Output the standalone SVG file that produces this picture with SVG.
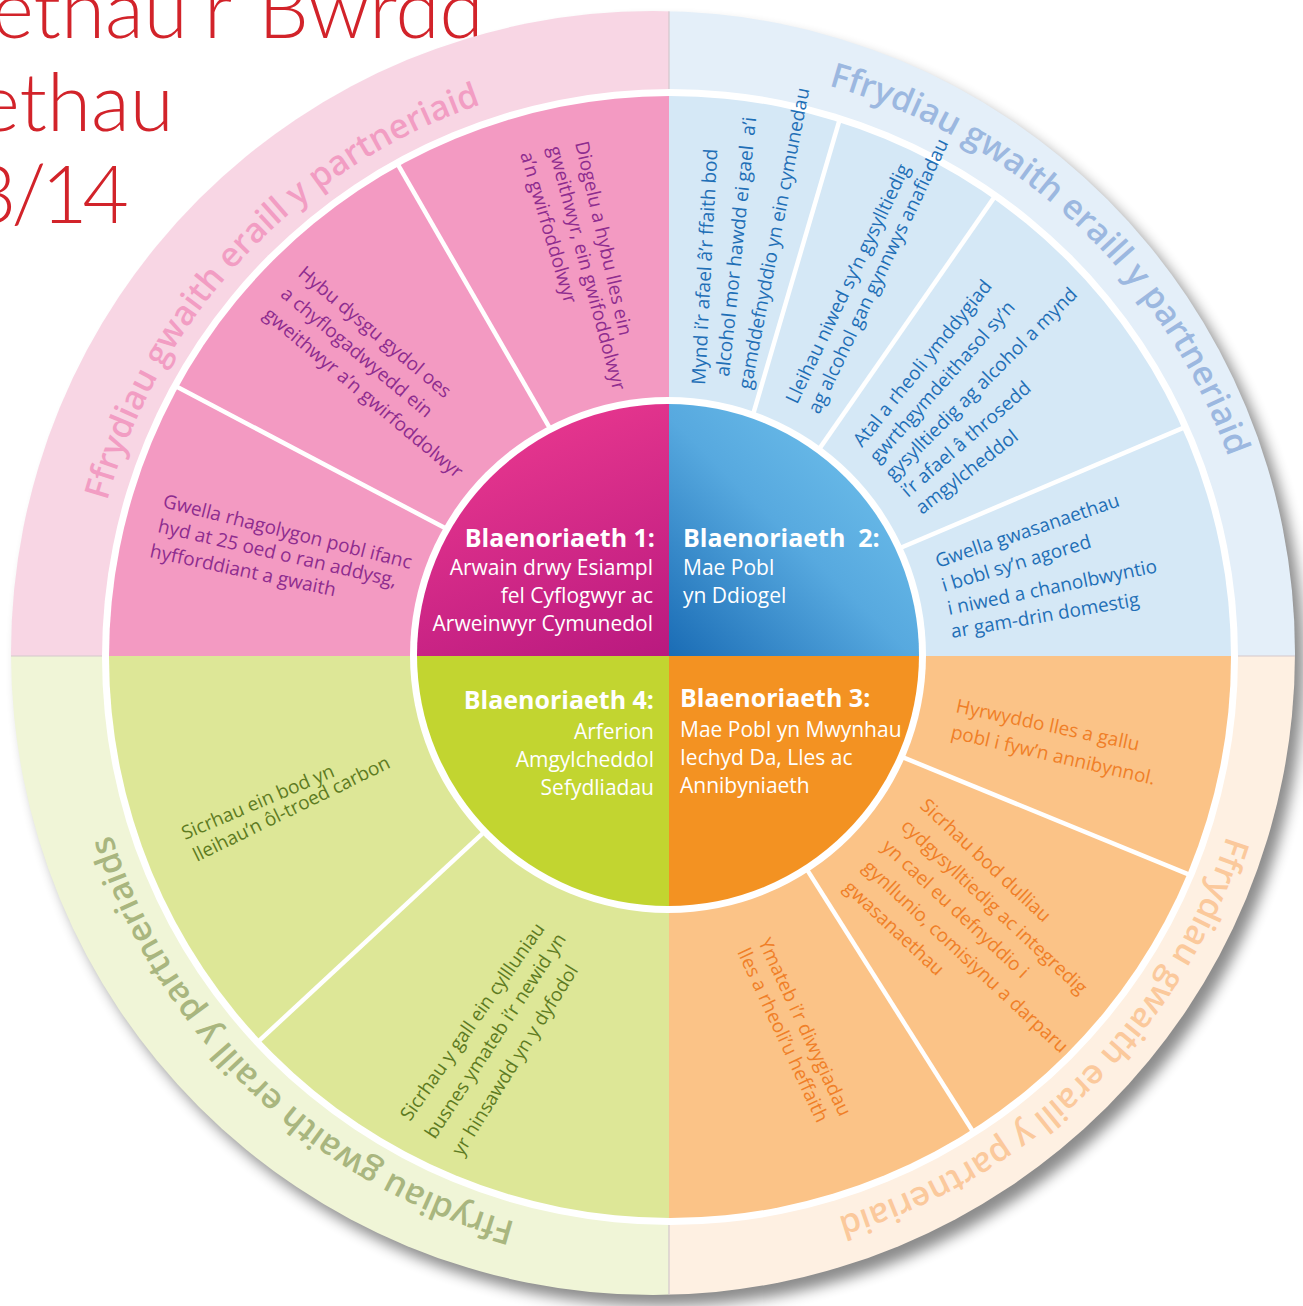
<svg xmlns="http://www.w3.org/2000/svg" width="1303" height="1306" viewBox="0 0 1303 1306">
<defs>
<style>
.title{font-family:Lato,"Open Sans",sans-serif;font-weight:300;font-size:80px;fill:#d2232a}
.ring{font-family:"Open Sans","Noto Sans",sans-serif;font-weight:600;font-size:34px}
.head{font-family:"Open Sans","Noto Sans",sans-serif;font-weight:700;font-size:25px;fill:#fff}
.sub{font-family:"Open Sans","Noto Sans",sans-serif;font-size:21px;fill:#fff}
.seg{font-family:"Open Sans","Noto Sans",sans-serif;font-size:19px}
.pk{fill:#8e2c8f}
.bl{fill:#1f6fb6}
.or{fill:#f07f27}
.gr{fill:#5d7b22}
.div{stroke:#fff;stroke-width:4.5;fill:none}
.sep{stroke:#d3c7cb;stroke-width:1.2;fill:none}
</style>
<clipPath id="cOuter"><circle cx="653" cy="653" r="642"/></clipPath>
<clipPath id="cMid"><circle cx="670" cy="657" r="561"/></clipPath>
<clipPath id="cIn"><circle cx="668" cy="655" r="251"/></clipPath>
<filter id="blur" x="-10%" y="-10%" width="120%" height="120%"><feGaussianBlur stdDeviation="7"/></filter>
<linearGradient id="gMag" x1="0.6" y1="0" x2="1" y2="1">
<stop offset="0" stop-color="#e9388f"/><stop offset="1" stop-color="#b9197f"/>
</linearGradient>
<linearGradient id="gBlue" x1="1" y1="0" x2="0" y2="1">
<stop offset="0" stop-color="#7bcbf1"/><stop offset="0.55" stop-color="#57a9df"/><stop offset="1" stop-color="#1a6cb5"/>
</linearGradient>
<path id="pPink" d="M107.2,500.9 A584,584 0 0 1 720.9,75.2"/>
<path id="pBlue" d="M828.5,85.6 A593,593 0 0 1 1260.7,708.7"/>
<path id="pOrange" d="M1227,835.8 A585,585 0 0 1 598.7,1237.6"/>
<path id="pGreen" d="M515.4,1222.2 A586,586 0 0 1 86.2,605.9"/>
</defs>

<rect width="1303" height="1306" fill="#fff"/>

<g id="title">
<text class="title" x="-8" y="38" word-spacing="6">ethau’r Bwrdd</text>
<text class="title" x="-22" y="131">ethau</text>
<text class="title" x="-30" y="223" letter-spacing="-5">3/14</text>
</g>

<g id="outer-ring">
<circle cx="662" cy="664" r="642" fill="#000" opacity="0.45" filter="url(#blur)"/>
<g clip-path="url(#cOuter)">
<rect x="0" y="0" width="669" height="656" fill="#f8d6e4"/>
<rect x="669" y="0" width="634" height="656" fill="#e4eff9"/>
<rect x="669" y="656" width="634" height="650" fill="#fef0e2"/>
<rect x="0" y="656" width="669" height="650" fill="#f0f5d7"/>
<line class="sep" x1="669" y1="0" x2="669" y2="1306"/>
<line class="sep" x1="0" y1="656" x2="1303" y2="656"/>
</g>
<text class="ring" fill="#f29dc3" font-size="35"><textPath href="#pPink">Ffrydiau gwaith eraill y partneriaid</textPath></text>
<text class="ring" fill="#9cb8e0"><textPath href="#pBlue">Ffrydiau gwaith eraill y partneriaid</textPath></text>
<text class="ring" fill="#fbc99c"><textPath href="#pOrange">Ffrydiau gwaith eraill y partneriaid</textPath></text>
<text class="ring" fill="#a9b67f"><textPath href="#pGreen">Ffrydiau gwaith eraill y partneriaids</textPath></text>
</g>

<g id="middle-ring">
<circle cx="670" cy="657" r="568" fill="#fff"/>
<g clip-path="url(#cMid)">
<rect x="0" y="0" width="669" height="656" fill="#f39ac2"/>
<rect x="669" y="0" width="634" height="656" fill="#d5e8f6"/>
<rect x="669" y="656" width="634" height="650" fill="#fbc387"/>
<rect x="0" y="656" width="669" height="650" fill="#dde797"/>
</g>
</g>

<g id="connectors">
<line class="div" x1="460.7" y1="536.3" x2="175" y2="385.8"/>
<line class="div" x1="558" y1="442.3" x2="396.5" y2="162.2"/>
<line class="div" x1="746.4" y1="437.2" x2="840.3" y2="117.3"/>
<line class="div" x1="810.6" y1="461.4" x2="995.6" y2="195.4"/>
<line class="div" x1="886.6" y1="553.8" x2="1186.7" y2="426.4"/>
<line class="div" x1="888.5" y1="751.4" x2="1192.8" y2="876.1"/>
<line class="div" x1="795.3" y1="851.1" x2="974.1" y2="1133.4"/>
<line class="div" x1="497.7" y1="819.4" x2="257.1" y2="1042.7"/>
</g>

<g id="inner-circle">
<circle cx="668" cy="655" r="258" fill="#fff"/>
<g clip-path="url(#cIn)">
<rect x="400" y="390" width="269" height="266" fill="url(#gMag)"/>
<rect x="669" y="390" width="270" height="266" fill="url(#gBlue)"/>
<rect x="669" y="656" width="270" height="260" fill="#f39222"/>
<rect x="400" y="656" width="269" height="260" fill="#c2d530"/>
</g>
</g>

<g id="priority-1">
<text class="head" x="655" y="547" text-anchor="end">Blaenoriaeth 1:</text>
<text class="sub" text-anchor="end"><tspan x="653" y="575">Arwain drwy Esiampl</tspan><tspan x="653" y="603">fel Cyflogwyr ac</tspan><tspan x="653" y="631">Arweinwyr Cymunedol</tspan></text>
</g>
<g id="priority-2">
<text class="head" x="683" y="547" xml:space="preserve">Blaenoriaeth  2:</text>
<text class="sub"><tspan x="683" y="575">Mae Pobl</tspan><tspan x="683" y="603">yn Ddiogel</tspan></text>
</g>
<g id="priority-3">
<text class="head" x="680" y="707">Blaenoriaeth 3:</text>
<text class="sub"><tspan x="680" y="737">Mae Pobl yn Mwynhau</tspan><tspan x="680" y="765">Iechyd Da, Lles ac</tspan><tspan x="680" y="793">Annibyniaeth</tspan></text>
</g>
<g id="priority-4">
<text class="head" x="654" y="709" text-anchor="end">Blaenoriaeth 4:</text>
<text class="sub" text-anchor="end"><tspan x="654" y="739">Arferion</tspan><tspan x="654" y="767">Amgylcheddol</tspan><tspan x="654" y="795">Sefydliadau</tspan></text>
</g>

<g id="seg-pink-a" class="seg pk">
<text transform="translate(575,143) rotate(77)">Diogelu a hybu lles ein</text>
<text transform="translate(548,148) rotate(75)">gweithwyr, ein gwifoddolwyr</text>
<text transform="translate(520,154) rotate(73.5)">a’n gwirfoddolwyr</text>
</g>
<g id="seg-pink-b" class="seg pk">
<text transform="translate(297,275) rotate(40)">Hybu dysgu gydol oes</text>
<text transform="translate(279.6,295.7) rotate(40)">a chyflogadwyedd ein</text>
<text transform="translate(262.2,316.4) rotate(40)">gweithwyr a’n gwirfoddolwyr</text>
</g>
<g id="seg-pink-c" class="seg pk">
<text transform="translate(162,507) rotate(14)">Gwella rhagolygon pobl ifanc</text>
<text transform="translate(157,532) rotate(13)">hyd at 25 oed o ran addysg,</text>
<text transform="translate(149,557) rotate(12)">hyfforddiant a gwaith</text>
</g>

<g id="seg-blue-a" class="seg bl">
<text transform="translate(705,385) rotate(-87)">Mynd i’r afael â’r ffaith bod</text>
<text transform="translate(729,377) rotate(-84)" xml:space="preserve">alcohol mor hawdd ei gael  a’i</text>
<text transform="translate(751,390) rotate(-79)">gamddefnyddio yn ein cymunedau</text>
</g>
<g id="seg-blue-b" class="seg bl">
<text transform="translate(797,405) rotate(-64.5)">Lleihau niwed sy’n gysylltiedig</text>
<text transform="translate(819,415) rotate(-64.5)">ag alcohol gan gynnwys anafiadau</text>
</g>
<g id="seg-blue-c" class="seg bl">
<text transform="translate(862,448) rotate(-51)">Atal a rheoli ymddygiad</text>
<text transform="translate(878,464) rotate(-48.5)">gwrthgymdeithasol sy’n</text>
<text transform="translate(893,481) rotate(-45)">gysylltiedig ag alcohol a mynd</text>
<text transform="translate(908,498) rotate(-41)">i’r afael â throsedd</text>
<text transform="translate(922,515) rotate(-38)">amgylcheddol</text>
</g>
<g id="seg-blue-d" class="seg bl">
<text transform="translate(938,568) rotate(-18.8)">Gwella gwasanaethau</text>
<text transform="translate(944,592) rotate(-16.8)">i bobl sy’n agored</text>
<text transform="translate(949,615) rotate(-11.6)">i niwed a chanolbwyntio</text>
<text transform="translate(952,638) rotate(-9.8)">ar gam-drin domestig</text>
</g>

<g id="seg-orange-a" class="seg or">
<text transform="translate(955,712) rotate(12)">Hyrwyddo lles a gallu</text>
<text transform="translate(950,738) rotate(13)">pobl i fyw’n annibynnol.</text>
</g>
<g id="seg-orange-b" class="seg or">
<text transform="translate(919,807) rotate(43)">Sicrhau bod dulliau</text>
<text transform="translate(899.9,827.5) rotate(43)">cydgysylltiedig ac integredig</text>
<text transform="translate(880.8,848) rotate(43)">yn cael eu defnyddio i</text>
<text transform="translate(861.7,868.5) rotate(43)">gynllunio, comisiynu a darparu</text>
<text transform="translate(842.6,889) rotate(43)">gwasanaethau</text>
</g>
<g id="seg-orange-c" class="seg or">
<text transform="translate(758,942) rotate(65)">Ymateb i’r diwygiadau</text>
<text transform="translate(737,952) rotate(65)">lles a rheoli’u heffaith</text>
</g>

<g id="seg-green-a" class="seg gr">
<text transform="translate(185,840) rotate(-23)">Sicrhau ein bod yn</text>
<text transform="translate(197,862) rotate(-26)">lleihau’n ôl-troed carbon</text>
</g>
<g id="seg-green-b" class="seg gr">
<text transform="translate(410,1122) rotate(-55)">Sicrhau y gall ein cyllluniau</text>
<text transform="translate(435,1140) rotate(-56.8)">busnes ymateb i’r newid yn</text>
<text transform="translate(462,1157) rotate(-58)">yr hinsawdd yn y dyfodol</text>
</g>
</svg>
